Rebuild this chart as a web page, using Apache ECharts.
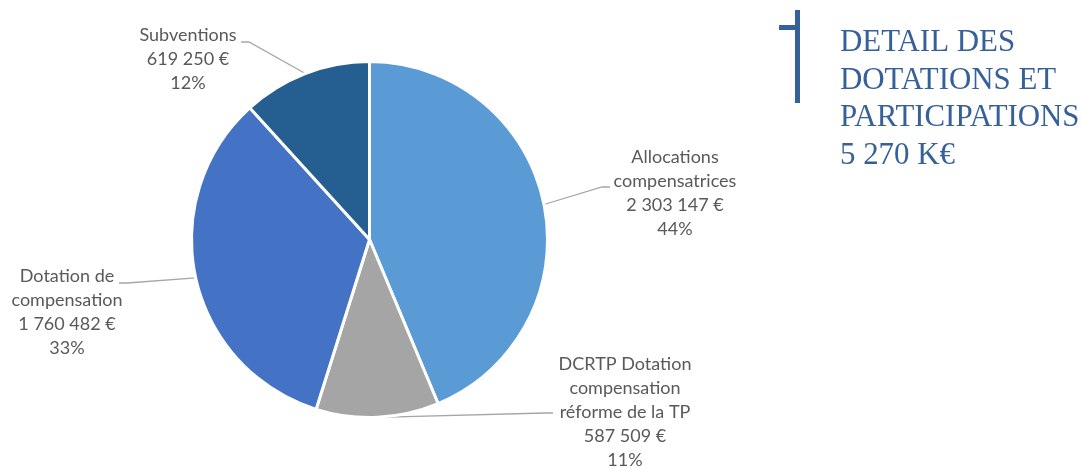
<!DOCTYPE html>
<html>
<head>
<meta charset="utf-8">
<script src="https://cdn.jsdelivr.net/npm/echarts@6/dist/echarts.min.js"></script>
<style>
  html, body { margin: 0; padding: 0; background: #ffffff; }
  #chart { width: 1082px; height: 468px; }
</style>
</head>
<body>
<div id="chart"></div>
<script>
// ---- data ----
var categories = ['Allocations\ncompensatrices', 'DCRTP Dotation\ncompensation\nréforme de la TP', 'Dotation de\ncompensation', 'Subventions'];
var values = [2303147, 587509, 1760482, 619250];
var colors = ['#5B9BD5', '#A5A5A5', '#4472C4', '#255E91'];
var titleLines = ['DETAIL DES', 'DOTATIONS ET', 'PARTICIPATIONS', '5 270 K€'];

// ---- layout (label placement, not data) ----
var labelPos = [
  { x: 675, y: 145, attach: [610, 187], bend: [602, 187] },
  { x: 625, y: 352, attach: [553, 413], bend: [545, 413] },
  { x: 67,  y: 264, attach: [119, 283], bend: [127, 283] },
  { x: 188, y: 23,  attach: [241, 42],  bend: [249, 42] }
];

function fmt(v) {
  return String(v).replace(/\B(?=(\d{3})+(?!\d))/g, ' ');
}

var chart = echarts.init(document.getElementById('chart'), null, { renderer: 'canvas' });
var titleColor = '#36609A';

chart.setOption({
  backgroundColor: '#ffffff',
  animation: false,
  graphic: [
    { type: 'rect', shape: { x: 795, y: 10, width: 5, height: 93 }, style: { fill: titleColor } },
    { type: 'rect', shape: { x: 779, y: 25, width: 21, height: 5 }, style: { fill: titleColor } },
    {
      type: 'text', x: 840, y: 24, scaleX: 0.965,
      style: {
        text: titleLines.join('\n'),
        font: '32px "Liberation Serif"',
        fill: titleColor,
        lineHeight: 37.5
      }
    }
  ],
  series: [{
    type: 'pie',
    center: [369.5, 239.5],
    radius: 178,
    startAngle: 90,
    clockwise: true,
    avoidLabelOverlap: false,
    itemStyle: { borderColor: '#ffffff', borderWidth: 3 },
    label: {
      show: true,
      position: 'outside',
      alignTo: 'none',
      color: '#595959',
      fontFamily: 'Lato',
      fontSize: 18,
      lineHeight: 24,
      align: 'center',
      formatter: function (p) {
        return p.name + '\n' + fmt(p.value) + ' €\n' + Math.round(p.percent) + '%';
      }
    },
    labelLine: {
      show: true,
      length: 10,
      length2: 8,
      lineStyle: { color: '#A6A6A6', width: 1.3 }
    },
    labelLayout: function (params) {
      var lp = labelPos[params.dataIndex];
      var arc = params.labelLinePoints ? params.labelLinePoints[0] : lp.bend;
      return {
        x: lp.x,
        y: lp.y,
        align: 'center',
        verticalAlign: 'top',
        labelLinePoints: [arc, lp.bend, lp.attach]
      };
    },
    data: categories.map(function (c, i) {
      return { name: c, value: values[i], itemStyle: { color: colors[i] } };
    })
  }]
});
</script>
</body>
</html>
